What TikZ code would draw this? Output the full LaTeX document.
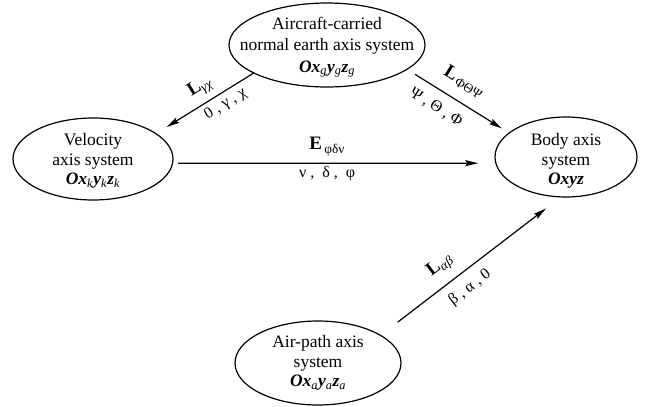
\documentclass[tikz,border=0pt]{standalone}
\usepackage{fontspec}
\setmainfont{Liberation Serif}
\usetikzlibrary{shapes.geometric,arrows.meta}
\newcommand{\bitx}[1]{\textbf{\textit{#1}}}
\newcommand{\isub}[1]{\textsubscript{\textit{#1}}}
\newcommand{\usub}[1]{\textsubscript{#1}}
\begin{document}
\begin{tikzpicture}[x=1pt,y=-1pt,
  ell/.style={ellipse, draw, line width=1.2pt, inner sep=0pt},
  txt/.style={align=center, font=\fontsize{17.5}{19.5}\selectfont, inner sep=0pt},
  conn/.style={line width=1.2pt},
  tipend/.style={-{Stealth[length=13pt,width=6pt,inset=2pt]}},
  tipstart/.style={{Stealth[length=13pt,width=6pt,inset=2pt]}-},
  lname/.style={font=\fontsize{19}{22}\selectfont, inner sep=0pt, sloped},
  lvals/.style={font=\fontsize{16}{18}\selectfont, inner sep=0pt, sloped}]
\useasboundingbox (0,0) rectangle (648,407);
% ellipses
\node[ell, minimum width=196pt, minimum height=84pt] (top) at (327,45) {};
\node[ell, minimum width=160pt, minimum height=82pt] (vel) at (93,159) {};
\node[ell, minimum width=142pt, minimum height=80pt] (body) at (566,157) {};
\node[ell, minimum width=166pt, minimum height=84pt] (air) at (318,363) {};
% texts
\node[txt, font=\fontsize{17.5}{21.5}\selectfont] (topt) at (327,47) {Aircraft-carried\\normal earth axis system\\\bitx{Ox}\isub{g}\bitx{y}\isub{g}\bitx{z}\isub{g}};
\node[txt] (velt) at (93,161) {Velocity\\axis system\\\bitx{Ox}\isub{k}\bitx{y}\isub{k}\bitx{z}\isub{k}};
\node[txt] (bodyt) at (566,161) {Body axis\\system\\\bitx{Oxyz}};
\node[txt] (airt) at (318,363) {Air-path axis\\system\\\bitx{Ox}\isub{a}\bitx{y}\isub{a}\bitx{z}\isub{a}};
% connectors
\draw[conn, tipstart, shorten <=12pt] (vel.22.3) -- (top.201.4)
  node[lname, pos=0.54, above=6.5pt] {\textbf{L}\isub{γχ}}
  node[lvals, pos=0.65, below=4pt] {0 , γ , χ};
\draw[conn, tipend, shorten <=9pt, shorten >=8pt] (top.-17.9) -- (body.157.4)
  node[lname, pos=0.46, above=11pt] {\textbf{L}\usub{\,ΦΘΨ}}
  node[lvals, pos=0.37, below=10pt] {Ψ , Θ , Φ};
\draw[conn, tipend, shorten <=5pt, shorten >=17pt] (vel.-3.6) -- (body.185.7)
  node[lname, pos=0.478, above=6.5pt] {\textbf{E}\usub{\,φδν}}
  node[lvals, pos=0.478, below=3pt] {ν ,\ \ δ ,\ \ φ};
\draw[conn, tipend, shorten <=21pt, shorten >=18pt] (air.24.8) -- (body.262.3)
  node[lname, pos=0.395, above=9pt] {\textbf{L}\isub{αβ}}
  node[lvals, pos=0.44, below=8.5pt] {β , α , 0};
\end{tikzpicture}
\end{document}
